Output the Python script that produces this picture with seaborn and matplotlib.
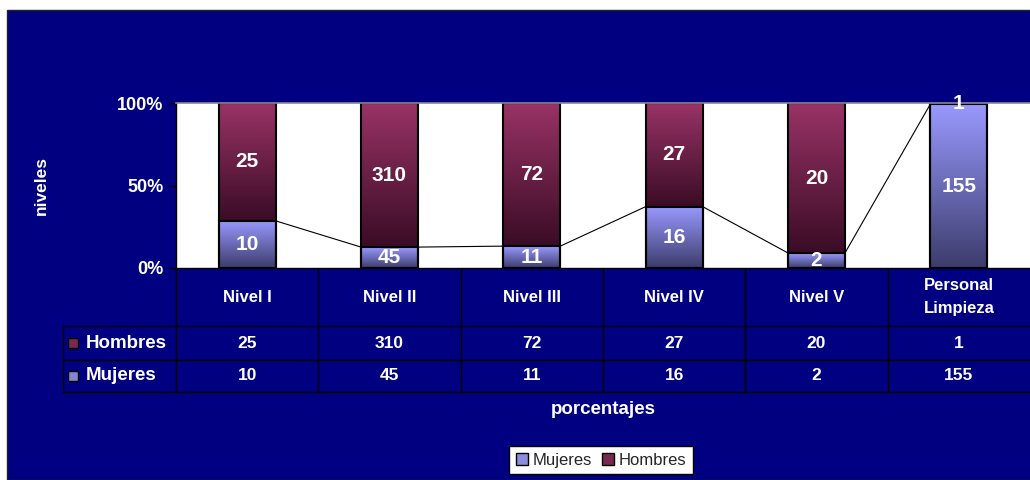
import numpy as np
import matplotlib
matplotlib.use("Agg")
import matplotlib.pyplot as plt
import seaborn as sns
from matplotlib.patches import Rectangle, Patch
from matplotlib.colors import to_rgb

niveles = ['Nivel I', 'Nivel II', 'Nivel III', 'Nivel IV', 'Nivel V', 'Personal\nLimpieza']
hombres = [25, 310, 72, 27, 20, 1]
mujeres = [10, 45, 11, 16, 2, 155]
pct_ticks = [0, 50, 100]
pct_labels = ['0%', '50%', '100%']

NAVY = '#000080'
MUJ_TOP, MUJ_BOT = '#9999FF', '#3C3C6C'
HOM_TOP, HOM_BOT = '#993366', '#3A0C25'

total = np.array(hombres) + np.array(mujeres)
muj_pct = 100 * np.array(mujeres) / total
hom_pct = 100 * np.array(hombres) / total
stack_top = muj_pct + hom_pct

sns.set_theme(style='white')
plt.rcParams['font.family'] = ['Liberation Sans', 'DejaVu Sans']
plt.rcParams['font.weight'] = 'bold'

W, H = 1030, 480
fig = plt.figure(figsize=(W / 100, H / 100), dpi=100)
fig.patch.set_facecolor('white')
fig.add_artist(Rectangle((7 / W, 0), 1, 1 - 10 / H, transform=fig.transFigure,
                         facecolor=NAVY, edgecolor='#222222', lw=1, zorder=-1))

# plot area
ax = fig.add_axes([176 / W, 1 - 268 / H, 854 / W, 165 / H])
sns.barplot(x=niveles, y=stack_top, ax=ax, color=HOM_TOP, width=0.4, errorbar=None,
            edgecolor='black', linewidth=1.5, saturation=1)
sns.barplot(x=niveles, y=muj_pct, ax=ax, color=MUJ_TOP, width=0.4, errorbar=None,
            edgecolor='black', linewidth=1.5, saturation=1)


def gradient(ax, x0, x1, y0, y1, top, bot):
    t = np.linspace(0, 1, 128)[:, None]
    c = np.array(to_rgb(bot)) * (1 - t) + np.array(to_rgb(top)) * t
    ax.imshow(c[:, None, :], extent=[x0, x1, y0, y1], origin='lower',
              aspect='auto', zorder=1, interpolation='bilinear')


n = len(niveles)
bars = list(ax.patches)
for i, p in enumerate(bars):
    x0, w = p.get_x(), p.get_width()
    k = i % n
    if i < n:
        gradient(ax, x0, x0 + w, muj_pct[k], stack_top[k], HOM_TOP, HOM_BOT)
    else:
        gradient(ax, x0, x0 + w, 0, muj_pct[k], MUJ_TOP, MUJ_BOT)
    p.set_facecolor('none')
    p.set_zorder(2)

# series lines between Mujeres tops
muj_bars = bars[n:]
for i in range(n - 1):
    a, b = muj_bars[i], muj_bars[i + 1]
    ax.plot([a.get_x() + a.get_width(), b.get_x()], [muj_pct[i], muj_pct[i + 1]],
            color='black', lw=0.8, zorder=1.5)

for i in range(n):
    ax.text(i, muj_pct[i] / 2, str(mujeres[i]), ha='center', va='center',
            color='white', fontsize=15, fontweight='bold', zorder=3)
    ax.text(i, muj_pct[i] + hom_pct[i] / 2, str(hombres[i]), ha='center', va='center',
            color='white', fontsize=15, fontweight='bold', zorder=3)

ax.set_xlim(-0.5, n - 0.5)
ax.set_ylim(0, 100)
ax.set_facecolor('white')
ax.set_xticks([])
ax.set_xlabel('')
ax.set_yticks(pct_ticks)
ax.set_yticklabels(pct_labels, fontweight='bold')
ax.tick_params(axis='y', left=True, length=5, width=1, color='black',
               labelcolor='white', labelsize=13, pad=4)
for s in ['left', 'bottom']:
    ax.spines[s].set_color('black')
    ax.spines[s].set_linewidth(1)
ax.spines['top'].set_color('#8a8a8a')
ax.spines['top'].set_linewidth(1.2)
ax.spines['right'].set_visible(False)

# data table
unit = 854 / n
xl = -0.5 - (176 - 63) / unit
tx = fig.add_axes([63 / W, 1 - 392 / H, 967 / W, 124 / H], zorder=2)
tx.set_facecolor(NAVY)
tx.set_xlim(xl, n - 0.5)
tx.set_ylim(124, 0)
tx.axis('off')


def px(x):
    return xl + (x - 63) / unit


tx.hlines([58, 92, 124], xl, n - 0.5, color='black', lw=1, clip_on=False)
tx.vlines(np.arange(n) - 0.5, 0, 124, color='black', lw=1, clip_on=False)
tx.vlines(xl, 58, 124, color='black', lw=1, clip_on=False)

for i in range(n):
    tx.text(i, 29, niveles[i], ha='center', va='center', color='white',
            fontsize=12, fontweight='bold', linespacing=1.6)
    tx.text(i, 75, str(hombres[i]), ha='center', va='center', color='white',
            fontsize=12.5, fontweight='bold')
    tx.text(i, 108, str(mujeres[i]), ha='center', va='center', color='white',
            fontsize=12.5, fontweight='bold')

for yc, name, col in [(75, 'Hombres', '#7a2850'), (108, 'Mujeres', '#8585d0')]:
    tx.add_patch(Rectangle((px(68), yc - 5), 10 / unit, 10, facecolor=col,
                           edgecolor='black', lw=1, clip_on=False))
    tx.text(px(86), yc, name, ha='left', va='center', color='white',
            fontsize=13.5, fontweight='bold')

fig.text(603 / W, 1 - 410 / H, 'porcentajes', ha='center', va='center',
         color='white', fontsize=13.5, fontweight='bold')
fig.text(41 / W, 1 - 185 / H, 'niveles', ha='center', va='center', rotation=90,
         color='white', fontsize=12.5, fontweight='bold')

handles = [Patch(facecolor='#8c8ce0', edgecolor='black', label='Mujeres'),
           Patch(facecolor='#7a2850', edgecolor='black', label='Hombres')]
fig.legend(handles=handles, loc='upper center', bbox_to_anchor=(601 / W, 1 - 446 / H),
           ncol=2, frameon=True, fancybox=False, edgecolor='black', facecolor='white',
           framealpha=1, prop={'weight': 'normal', 'size': 12}, handlelength=0.7,
           handleheight=0.7, handletextpad=0.3, columnspacing=0.6, borderpad=0.4,
           borderaxespad=0)

fig.savefig('out.png', dpi=100)
